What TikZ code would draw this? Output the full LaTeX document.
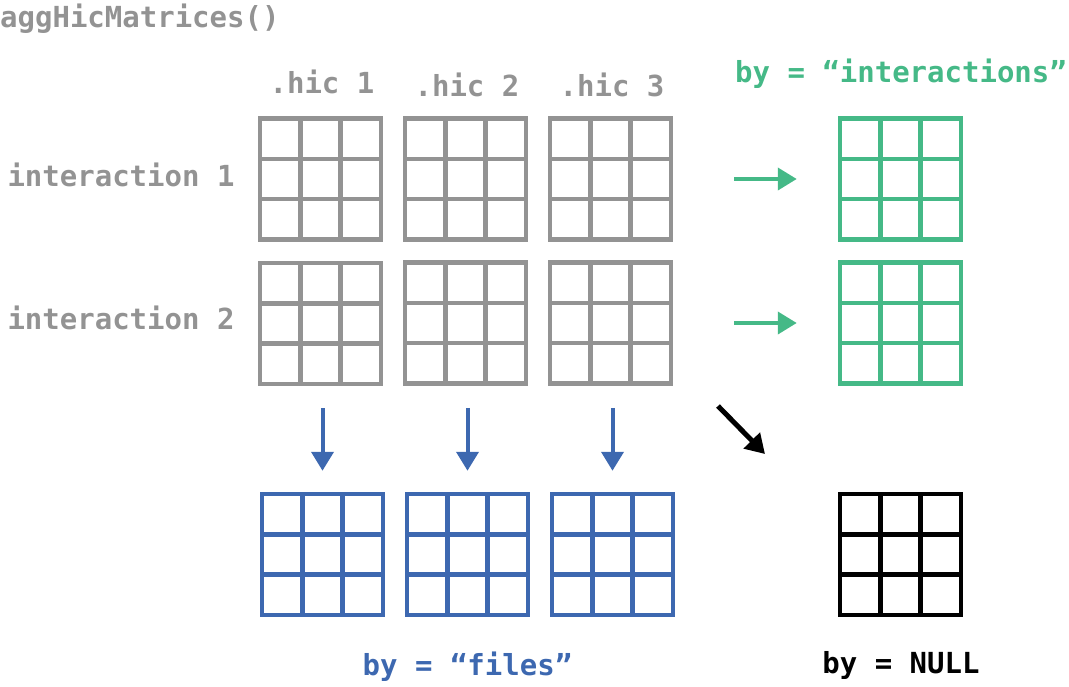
\documentclass[tikz,border=0pt]{standalone}
\usepackage{fontspec}
\setmonofont{DejaVu Sans Mono}
\usetikzlibrary{calc,arrows.meta}

\definecolor{hicgray}{RGB}{147,147,147}
\definecolor{hicgreen}{RGB}{69,185,135}
\definecolor{hicblue}{RGB}{61,104,176}

\tikzset{
  mat/.style={draw=#1, line width=4.5pt, minimum size=121pt, inner sep=0pt,
    path picture={
      \foreach \k in {1,2}{
        \draw[#1, line width=4.5pt]
          ($(path picture bounding box.north west)!\k/3!(path picture bounding box.north east)$) --
          ($(path picture bounding box.south west)!\k/3!(path picture bounding box.south east)$);
        \draw[#1, line width=4.5pt]
          ($(path picture bounding box.north west)!\k/3!(path picture bounding box.south west)$) --
          ($(path picture bounding box.north east)!\k/3!(path picture bounding box.south east)$);
      }}},
  lbl/.style={text=#1, font=\ttfamily\bfseries\fontsize{29}{34}\selectfont, anchor=base, inner sep=0pt},
  arr/.style={draw=#1, line width=4pt, -{Triangle[length=19pt,width=22pt]}}
}

\begin{document}
\begin{tikzpicture}[x=1pt,y=-1pt]
            \useasboundingbox (0,0) rectangle (1069,686);

            % function name
            \node[lbl=hicgray, anchor=base west] (title) at (0,27) {aggHicMatrices()};

            % input matrices, one row per interaction
            \node[mat=hicgray] (h11) at (320.5,179) {};
            \node[mat=hicgray] (h12) at (465.5,179) {};
            \node[mat=hicgray] (h13) at (610.5,179) {};
            \node[mat=hicgray] (h21) at (320.5,323.5) {};
            \node[mat=hicgray] (h22) at (465.5,323) {};
            \node[mat=hicgray] (h23) at (610.5,323) {};

            \node[lbl=hicgray] (hic1) at (322,93) {.hic 1};
            \node[lbl=hicgray] (hic2) at (467,96) {.hic 2};
            \node[lbl=hicgray] (hic3) at (612,96) {.hic 3};
            \node[lbl=hicgray] (lint1) at (121,186) {interaction 1};
            \node[lbl=hicgray] (lint2) at (121,329) {interaction 2};

            % by = "interactions"
            \node[mat=hicgreen] (int1) at (900.5,179) {};
            \node[mat=hicgreen] (int2) at (900.5,323) {};
            \node[lbl=hicgreen] (lbyint) at (901,82) {by = “interactions”};
            \draw[arr=hicgreen, shorten <=61pt, shorten >=41pt] (h13.east) -- (int1.west);
            \draw[arr=hicgreen, shorten <=61pt, shorten >=41pt] (h23.east) -- (int2.west);

            % by = "files"
            \node[mat=hicblue] (f1) at (322.5,554.5) {};
            \node[mat=hicblue] (f2) at (467.5,554.5) {};
            \node[mat=hicblue] (f3) at (612.5,554.5) {};
            \node[lbl=hicblue] (lbyfiles) at (467.5,675) {by = “files”};
            \draw[arr=hicblue, shorten <=22pt, shorten >=21pt] (h21.south -| f1.north) -- (f1.north);
            \draw[arr=hicblue, shorten <=22pt, shorten >=21pt] (h22.south -| f2.north) -- (f2.north);
            \draw[arr=hicblue, shorten <=22pt, shorten >=21pt] (h23.south -| f3.north) -- (f3.north);

            % by = NULL
            \node[mat=black] (nul) at (900.5,554.5) {};
            \node[lbl=black] (lbynull) at (901,673) {by = NULL};
            \coordinate (dstart) at (718,406);
            \coordinate (dend) at (765,454);
            \draw[arr=black, line width=5pt] (dstart) -- (dend);
        \end{tikzpicture}
\end{document}
